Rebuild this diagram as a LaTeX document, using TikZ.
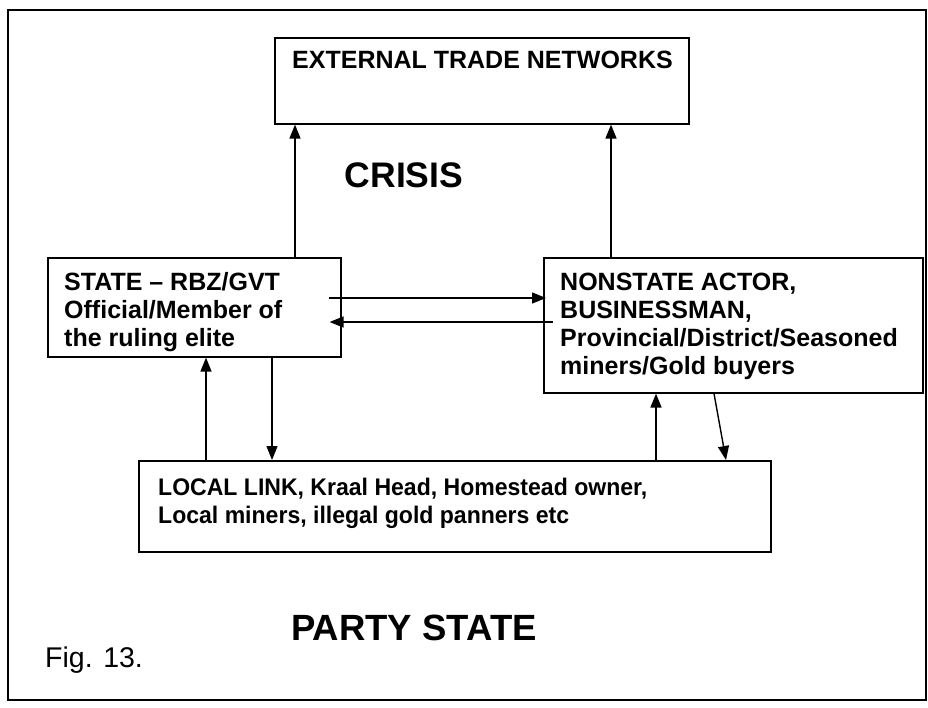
\documentclass[tikz,border=0pt]{standalone}
\usepackage{fontspec}
\setmainfont{Liberation Sans}
\newfontfamily\condfont[FakeStretch=0.96]{Liberation Sans}
\usetikzlibrary{arrows.meta,calc}
\begin{document}
\begin{tikzpicture}[x=1pt,y=-1pt,
  box/.style={draw, line width=1.6pt, inner sep=0pt, anchor=north west},
  txt/.style={anchor=north west, inner sep=0pt, align=left, font=\fontsize{25}{28}\selectfont\bfseries},
  smalltxt/.style={txt, font=\condfont\fontsize{24}{28}\selectfont\bfseries},
  bigtxt/.style={inner sep=0pt, font=\fontsize{35.5}{40}\selectfont\bfseries},
  conn/.style={line width=1.4pt, -{Triangle[length=14pt,width=11pt]}}]
\useasboundingbox (0,0) rectangle (928,707);
\draw[line width=1.6pt] (8,10) rectangle (926,700);
% boxes
\node[box, minimum width=414pt, minimum height=86pt] (ext) at (274,37) {};
\node[box, minimum width=293pt, minimum height=99pt] (state) at (47,257) {};
\node[box, minimum width=379pt, minimum height=135pt] (nonstate) at (543,257) {};
\node[box, minimum width=632pt, minimum height=91pt] (local) at (138,460) {};
% texts
\node[txt] (extt) at (292,48.4) {\strut EXTERNAL TRADE NETWORKS};
\node[txt] (statet) at (64,270.4) {\strut STATE – RBZ/GVT\\Official/Member of\\the ruling elite};
\node[txt] (nonstatet) at (560,270.4) {\strut NONSTATE ACTOR,\\BUSINESSMAN,\\Provincial/District/Seasoned\\miners/Gold buyers};
\node[smalltxt] (localt) at (158,475.4) {\strut LOCAL LINK, Kraal Head, Homestead owner,\\Local miners, illegal gold panners etc};
\node[bigtxt] (crisis) at (404,175) {CRISIS};
\node[bigtxt, font=\fontsize{36.5}{40}\selectfont\bfseries] (party) at (414,628) {PARTY STATE};
\node[anchor=west, inner sep=0pt, font=\fontsize{28.5}{32}\selectfont] (fig) at (45,660) {Fig. 13.};
% connectors
\draw[conn] ($(state.north west)+(248,0)$) -- ($(ext.south west)+(21,0)$);
\draw[conn] ($(nonstate.north west)+(68,0)$) -- ($(ext.south west)+(337,0)$);
\draw[conn] ($(state.north east)+(-13,41)$) -- ($(nonstate.north west)+(3,41)$);
\draw[conn] ($(nonstate.north west)+(10,65)$) -- ($(state.north east)+(-12,65)$);
\draw[conn] ($(local.north west)+(68,0)$) -- ($(state.south west)+(159,0)$);
\draw[conn] ($(state.south west)+(225,0)$) -- ($(local.north west)+(134,0)$);
\draw[conn] ($(local.north west)+(518,0)$) -- ($(nonstate.south west)+(113,0)$);
\draw[conn] ($(nonstate.south west)+(171,0)$) -- ($(local.north west)+(588,0)$);
\end{tikzpicture}
\end{document}
